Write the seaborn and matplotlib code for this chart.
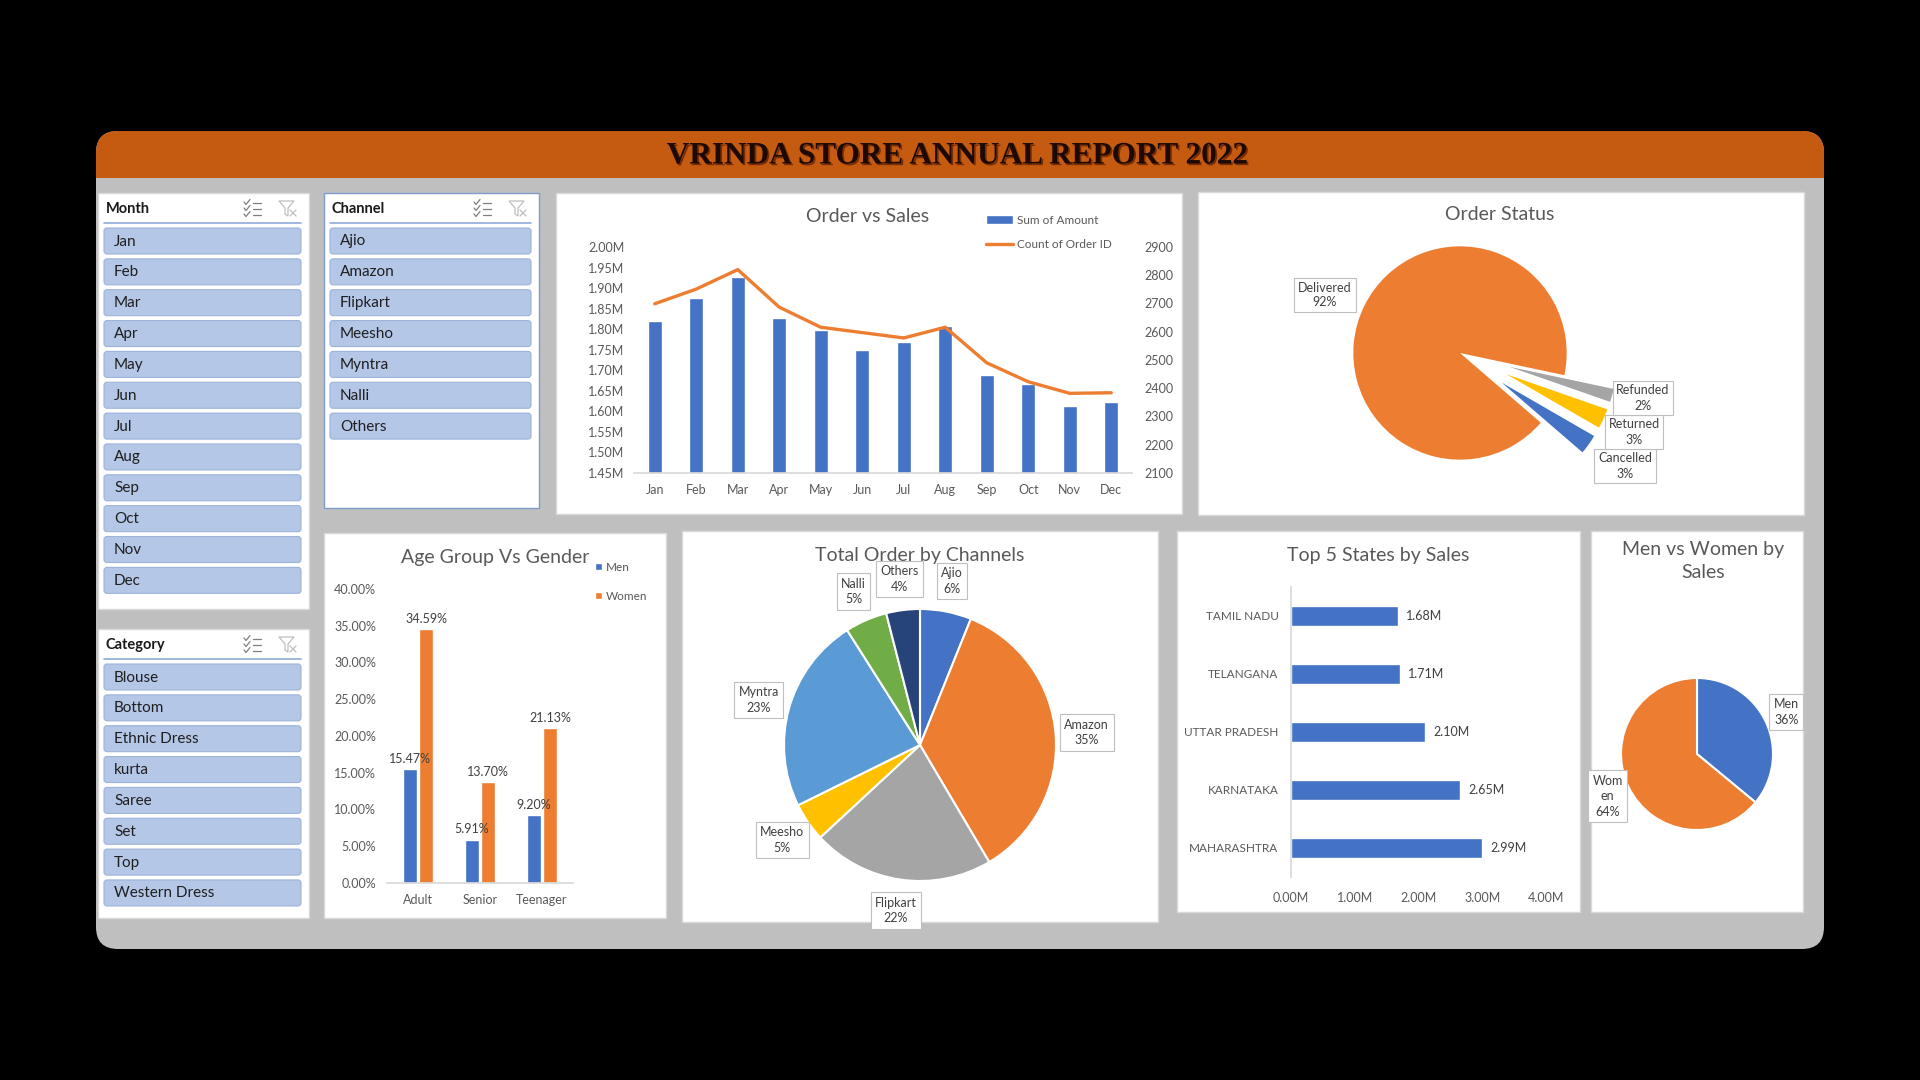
import textwrap
import numpy as np
import pandas as pd
import matplotlib
matplotlib.use("Agg")
import matplotlib.pyplot as plt
import seaborn as sns
from matplotlib.patches import FancyBboxPatch, Rectangle, Patch, Polygon
from matplotlib.lines import Line2D
from matplotlib.ticker import FuncFormatter
import matplotlib.patheffects as pe

# ---------------- data ----------------
months = ["Jan", "Feb", "Mar", "Apr", "May", "Jun", "Jul", "Aug", "Sep", "Oct", "Nov", "Dec"]
sales_amount = [1.820e6, 1.875e6, 1.928e6, 1.828e6, 1.797e6, 1.749e6,
                1.770e6, 1.808e6, 1.688e6, 1.666e6, 1.613e6, 1.622e6]
order_count = [2699, 2751, 2820, 2687, 2616, 2597, 2578, 2616, 2490, 2423, 2382, 2384]

status_labels = ["Cancelled", "Delivered", "Refunded", "Returned"]
status_share = [3, 92, 2, 3]

age_groups = ["Adult", "Senior", "Teenager"]
men_share = [15.47, 5.91, 9.20]
women_share = [34.59, 13.70, 21.13]

channels = ["Ajio", "Amazon", "Flipkart", "Meesho", "Myntra", "Nalli", "Others"]
channel_share = [6.1, 35.4, 21.6, 4.6, 23.3, 5.0, 4.0]

states = ["TAMIL NADU", "TELANGANA", "UTTAR PRADESH", "KARNATAKA", "MAHARASHTRA"]
state_sales = [1.68e6, 1.71e6, 2.10e6, 2.65e6, 2.99e6]

genders = ["Men", "Women"]
gender_share = [36, 64]

categories = ["Blouse", "Bottom", "Ethnic Dress", "kurta", "Saree", "Set", "Top", "Western Dress"]

# ---------------- style ----------------
BLUE, ORANGE, GRAY, YELLOW = "#4472C4", "#ED7D31", "#A5A5A5", "#FFC000"
LBLUE, GREEN, DBLUE = "#5B9BD5", "#70AD47", "#264478"
TXT, LBL = "#595959", "#404040"

sns.set_theme(style="white")
plt.rcParams["font.family"] = ["Lato", "DejaVu Sans"]

W, H = 1920, 1080
fig = plt.figure(figsize=(19.2, 10.8), dpi=100, facecolor="black")


def fax(x0, y0, x1, y1):
    a = fig.add_axes([x0 / W, 1 - y1 / H, (x1 - x0) / W, (y1 - y0) / H])
    a.patch.set_alpha(0)
    return a


def ftext(x, y, s, **kw):
    return fig.text(x / W, 1 - y / H, s, **kw)


bg = fax(0, 0, W, H)
bg.set_xlim(0, W)
bg.set_ylim(H, 0)
bg.axis("off")
bg.set_zorder(-10)

# dashboard frame
bg.add_patch(FancyBboxPatch((96, 131), 1728, 818, boxstyle="round,pad=0,rounding_size=22",
                            fc="#BFBFBF", ec="none"))
bg.add_patch(FancyBboxPatch((96, 131), 1728, 47, boxstyle="round,pad=0,rounding_size=22",
                            fc="#C55A11", ec="none"))
bg.add_patch(Rectangle((96, 155), 1728, 23, fc="#C55A11", ec="none"))
bg.text(957, 156, "VRINDA STORE ANNUAL REPORT 2022", fontsize=22.5, fontweight="bold",
        family=["Liberation Serif", "DejaVu Serif"], color="#1C0A02", ha="center", va="center",
        path_effects=[pe.withSimplePatchShadow(offset=(1.2, -1.2), shadow_rgbFace="#5A1A00", alpha=0.7)])


def panel(x0, y0, x1, y1, ec="#D9D9D9", lw=1.0):
    bg.add_patch(Rectangle((x0, y0), x1 - x0, y1 - y0, fc="white", ec=ec, lw=lw))


def multiselect_icon(cx, cy):
    for k in (-6, 0, 6):
        y = cy + k
        bg.plot([cx - 8, cx - 6, cx - 2], [y - 1, y + 1.5, y - 3.5], color="#7F7F7F", lw=0.9)
        bg.plot([cx + 1, cx + 9], [y, y], color="#7F7F7F", lw=0.9)


def filter_icon(cx, cy):
    bg.add_patch(Polygon([[cx - 9, cy - 8], [cx + 6, cy - 8], [cx, cy - 1], [cx, cy + 7],
                          [cx - 3, cy + 5], [cx - 3, cy - 1]], closed=True, fc="none",
                         ec="#BFBFBF", lw=0.9))
    bg.plot([cx + 2, cx + 8], [cy + 1, cy + 7], color="#BFBFBF", lw=0.9)
    bg.plot([cx + 2, cx + 8], [cy + 7, cy + 1], color="#BFBFBF", lw=0.9)


def slicer(x0, y0, x1, y1, title, items, ec):
    panel(x0, y0, x1, y1, ec=ec)
    bg.text(x0 + 8, y0 + 16, title, fontsize=10.5, fontweight="bold", color="#1A1A1A",
            ha="left", va="center")
    multiselect_icon(x1 - 57, y0 + 16)
    filter_icon(x1 - 21, y0 + 16)
    bg.plot([x0 + 6, x1 - 8], [y0 + 30, y0 + 30], color="#8FAADC", lw=1.2)
    for i, it in enumerate(items):
        top = y0 + 35 + i * 30.85
        bg.add_patch(FancyBboxPatch((x0 + 6, top), x1 - x0 - 14, 26,
                                    boxstyle="round,pad=0,rounding_size=3",
                                    fc="#B4C7E7", ec="#9DB3DA", lw=0.8))
        bg.text(x0 + 16, top + 13.5, it, fontsize=11, color="#1F1F1F", ha="left", va="center")


slicer(98, 193, 309, 609, "Month", months, "#D9D9D9")
slicer(324, 193, 539, 508, "Channel", channels, "#7F9CCB")
slicer(98, 629, 309, 918, "Category", categories, "#D9D9D9")

# chart panels
panel(556, 193, 1182, 514)
panel(1198, 192, 1804, 515)
panel(324, 533, 666, 918)
panel(682, 531, 1158, 922)
panel(1177, 531, 1580, 912)
panel(1591, 531, 1803, 912)

TFS = 14


def strip(a, keep=()):
    for s in ["top", "right", "left", "bottom"]:
        a.spines[s].set_visible(s in keep)
        a.spines[s].set_color("#D9D9D9")
    a.set_xlabel("")
    a.set_ylabel("")


# ---------------- Order vs Sales ----------------
df_ms = pd.DataFrame({"Month": months, "Sum of Amount": sales_amount, "Count of Order ID": order_count})
ax1 = fax(634, 247, 1132, 473)
sns.barplot(data=df_ms, x="Month", y="Sum of Amount", color=BLUE, saturation=1, width=0.33, ax=ax1)
ax1.set_ylim(1.45e6, 2.0e6)
ax1.set_yticks(np.arange(1.45e6, 2.0e6 + 1, 0.05e6))
ax1.yaxis.set_major_formatter(FuncFormatter(lambda v, p: f"{v / 1e6:.2f}M"))
ax1.set_xlim(-0.5, len(months) - 0.5)
strip(ax1, keep=("bottom",))
ax1.tick_params(axis="x", length=0, labelsize=9, colors=TXT, pad=8)
ax1.tick_params(axis="y", length=0, labelsize=9, colors=TXT, pad=7)
ax2 = ax1.twinx()
sns.lineplot(x=np.arange(len(months)), y=df_ms["Count of Order ID"], color=ORANGE, lw=2.4, ax=ax2)
ax2.set_ylim(2100, 2900)
ax2.set_yticks(range(2100, 2901, 100))
strip(ax2)
ax2.tick_params(axis="y", length=0, labelsize=9, colors=TXT, pad=9)
ftext(868, 217, "Order vs Sales", fontsize=TFS, color=TXT, ha="center", va="center")
fig.legend([Patch(fc=BLUE), Line2D([0], [0], color=ORANGE, lw=2.4)],
           ["Sum of Amount", "Count of Order ID"], loc="upper left",
           bbox_to_anchor=(980 / W, 1 - 209 / H), frameon=False, fontsize=8.5, labelcolor=TXT,
           handlelength=2.3, handleheight=0.75, labelspacing=1.1, borderpad=0, handletextpad=0.3)

# ---------------- Order Status ----------------
axs = fax(1460 - 160, 353 - 160, 1460 + 160, 353 + 160)
axs.pie(status_share, colors=[BLUE, ORANGE, GRAY, YELLOW], startangle=-30, counterclock=False,
        explode=[0.48, 0, 0.48, 0.48], radius=1, wedgeprops=dict(lw=0))
axs.set_xlim(-1.5, 1.5)
axs.set_ylim(-1.5, 1.5)
ftext(1500, 214, "Order Status", fontsize=TFS, color=TXT, ha="center", va="center")
tot = sum(status_share)
status_pos = {"Delivered": (1325, 295), "Refunded": (1643, 398),
              "Returned": (1634, 432), "Cancelled": (1625, 466)}
for z, name in enumerate(["Delivered", "Cancelled", "Returned", "Refunded"]):
    v = status_share[status_labels.index(name)]
    x, y = status_pos[name]
    ftext(x, y, f"{name}\n{v / tot:.0%}", fontsize=9, color=LBL, ha="center", va="center",
          linespacing=1.3, zorder=5 + z,
          bbox=dict(boxstyle="square,pad=0.3", fc="white", ec="#BFBFBF", lw=0.8))

# ---------------- Age Group Vs Gender ----------------
df_age = pd.DataFrame({"Age Group": age_groups * 2,
                       "Gender": ["Men"] * len(age_groups) + ["Women"] * len(age_groups),
                       "Share": men_share + women_share})
axa = fax(387, 589, 573, 883)
sns.barplot(data=df_age, x="Age Group", y="Share", hue="Gender", palette=[BLUE, ORANGE],
            saturation=1, width=0.53, gap=0.18, ax=axa, legend=False)
axa.set_ylim(0, 40)
axa.set_yticks(np.arange(0, 41, 5))
axa.yaxis.set_major_formatter(FuncFormatter(lambda v, p: f"{v:.2f}%"))
strip(axa, keep=("bottom",))
axa.tick_params(axis="x", length=0, labelsize=9, colors=TXT, pad=8)
axa.tick_params(axis="y", length=0, labelsize=9, colors=TXT, pad=8)
for cont, vals in zip(axa.containers, [men_share, women_share]):
    axa.bar_label(cont, labels=[f"{v:.2f}%" for v in vals], padding=3, fontsize=9, color=LBL)
ftext(495, 558, "Age Group Vs Gender", fontsize=TFS, color=TXT, ha="center", va="center")
fig.legend([Patch(fc=BLUE), Patch(fc=ORANGE)], genders, loc="upper left",
           bbox_to_anchor=(589 / W, 1 - 556 / H), frameon=False, fontsize=8.5, labelcolor=TXT,
           handlelength=0.6, handleheight=0.6, labelspacing=1.5, borderpad=0, handletextpad=0.3)

# ---------------- Total Order by Channels ----------------
RC = 136
axc = fax(920 - 160, 745 - 160, 920 + 160, 745 + 160)
wedges, _ = axc.pie(channel_share, colors=[BLUE, ORANGE, GRAY, YELLOW, LBLUE, GREEN, DBLUE],
                    startangle=90, counterclock=False, radius=1,
                    wedgeprops=dict(edgecolor="white", lw=1.5))
axc.set_xlim(-160 / RC, 160 / RC)
axc.set_ylim(-160 / RC, 160 / RC)
ctot = sum(channel_share)
for w, name, v in zip(wedges, channels, channel_share):
    th = np.deg2rad((w.theta1 + w.theta2) / 2)
    axc.text(1.23 * np.cos(th), 1.23 * np.sin(th), f"{name}\n{v / ctot:.0%}", fontsize=9,
             color=LBL, ha="center", va="center", linespacing=1.35, zorder=5,
             bbox=dict(boxstyle="square,pad=0.35", fc="white", ec="#BFBFBF", lw=0.8))
ftext(920, 555, "Total Order by Channels", fontsize=TFS, color=TXT, ha="center", va="center")

# ---------------- Top 5 States by Sales ----------------
axt = fax(1291, 587, 1546, 877)
sns.barplot(x=state_sales, y=states, orient="h", color=BLUE, saturation=1, width=0.345, ax=axt)
axt.set_xlim(0, 4e6)
axt.set_xticks(np.arange(0, 4e6 + 1, 1e6))
axt.xaxis.set_major_formatter(FuncFormatter(lambda v, p: f"{v / 1e6:.2f}M"))
strip(axt, keep=("left",))
axt.tick_params(axis="x", length=0, labelsize=9, colors=TXT, pad=11)
axt.tick_params(axis="y", length=0, labelsize=8.5, colors=TXT, pad=9)
axt.bar_label(axt.containers[0], labels=[f"{v / 1e6:.2f}M" for v in state_sales], padding=6,
              fontsize=9, color=LBL)
ftext(1378, 555, "Top 5 States by Sales", fontsize=TFS, color=TXT, ha="center", va="center")

# ---------------- Men vs Women by Sales ----------------
RG = 76
axg = fax(1697 - 110, 754 - 110, 1697 + 110, 754 + 110)
gw, _ = axg.pie(gender_share, colors=[BLUE, ORANGE], startangle=90, counterclock=False, radius=1,
                wedgeprops=dict(edgecolor="white", lw=1.5))
axg.set_xlim(-110 / RG, 110 / RG)
axg.set_ylim(-110 / RG, 110 / RG)
gtot = sum(gender_share)
for w, name, v in zip(gw, genders, gender_share):
    th = np.deg2rad((w.theta1 + w.theta2) / 2)
    nm = "\n".join(textwrap.wrap(name, 3))
    axg.text(1.3 * np.cos(th), 1.3 * np.sin(th), f"{nm}\n{v / gtot:.0%}", fontsize=9,
             color=LBL, ha="center", va="center", linespacing=1.35, zorder=5,
             bbox=dict(boxstyle="square,pad=0.35", fc="white", ec="#BFBFBF", lw=0.8))
ftext(1703, 561, "Men vs Women by\nSales", fontsize=TFS, color=TXT, ha="center", va="center",
      linespacing=1.45)

fig.savefig("out.png", dpi=100, facecolor="black")
